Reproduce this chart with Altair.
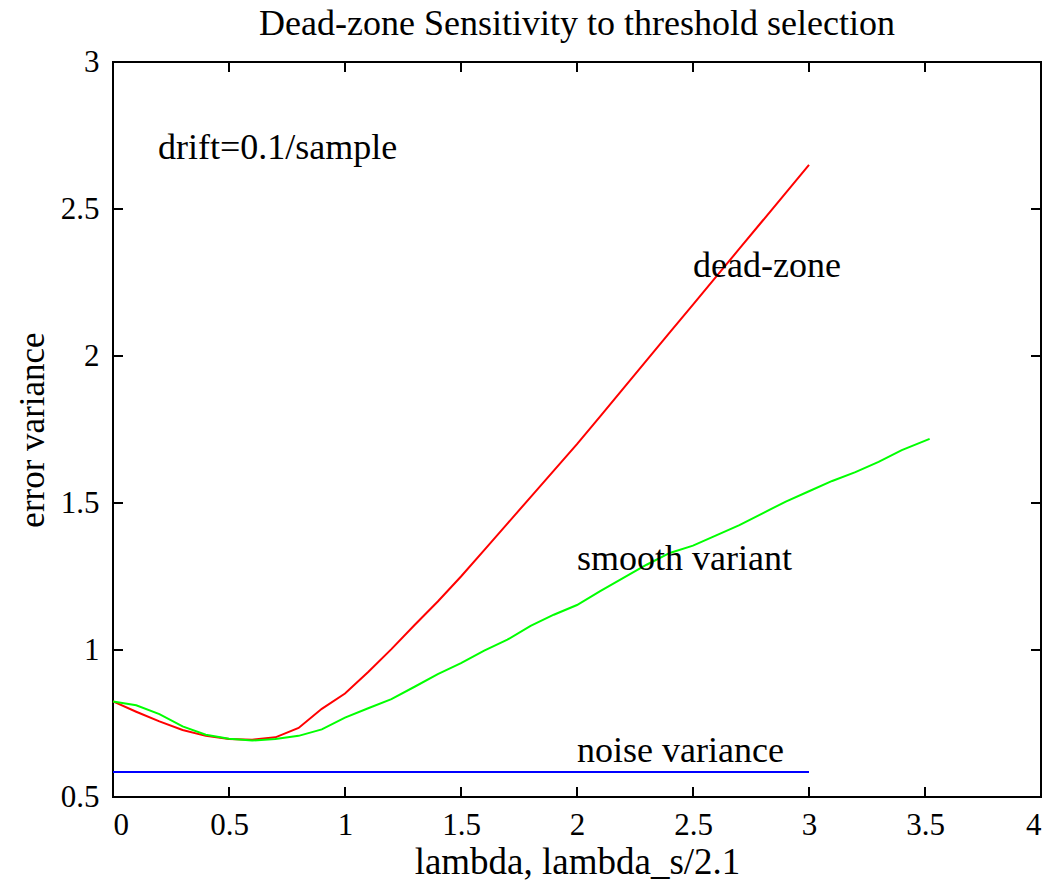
import altair as alt
import pandas as pd

# ---- data ----
dz_x = [0.0, 0.1, 0.2, 0.3, 0.4, 0.5, 0.6, 0.7, 0.8, 0.9, 1.0, 1.1, 1.2, 1.3, 1.4, 1.5,
        1.6, 1.7, 1.8, 1.9, 2.0, 2.1, 2.2, 2.3, 2.4, 2.5, 2.6, 2.7, 2.8, 2.9, 3.0]
dz_y = [0.825, 0.790, 0.757, 0.728, 0.708, 0.697, 0.695, 0.703, 0.735, 0.800, 0.852,
        0.925, 1.003, 1.085, 1.165, 1.250, 1.340, 1.430, 1.520, 1.610, 1.700, 1.795,
        1.890, 1.985, 2.080, 2.175, 2.270, 2.365, 2.460, 2.555, 2.650]

sm_x = [0.0, 0.1, 0.2, 0.3, 0.4, 0.5, 0.6, 0.7, 0.8, 0.9, 1.0, 1.1, 1.2, 1.3, 1.4, 1.5,
        1.6, 1.7, 1.8, 1.9, 2.0, 2.1, 2.2, 2.3, 2.4, 2.5, 2.6, 2.7, 2.8, 2.9, 3.0, 3.1,
        3.2, 3.3, 3.4, 3.52]
sm_y = [0.825, 0.812, 0.782, 0.740, 0.712, 0.698, 0.692, 0.697, 0.708, 0.730, 0.770,
        0.802, 0.833, 0.875, 0.918, 0.955, 0.998, 1.035, 1.082, 1.120, 1.153, 1.200,
        1.245, 1.290, 1.330, 1.355, 1.390, 1.425, 1.465, 1.505, 1.540, 1.575, 1.605,
        1.640, 1.680, 1.718]

noise_x = [0.0, 3.0]
noise_y = [0.585, 0.585]

series_names = ["dead-zone", "smooth variant", "noise variance"]
series_colors = ["#ff0000", "#00ff00", "#0000ff"]

ann_text = ["drift=0.1/sample", "dead-zone", "smooth variant", "noise variance"]
ann_x = [0.194, 2.50, 2.00, 2.00]
ann_y = [2.670, 2.269, 1.272, 0.620]

x_ticks = [0, 0.5, 1, 1.5, 2, 2.5, 3, 3.5, 4]
y_ticks = [0.5, 1, 1.5, 2, 2.5, 3]

title_text = "Dead-zone Sensitivity to threshold selection"
x_title = "lambda, lambda_s/2.1"
y_title = "error variance"

FONT = "Liberation Serif"
W, H = 928, 735

# ---- tables ----
rows = []
for name, xs, ys in [(series_names[0], dz_x, dz_y),
                     (series_names[1], sm_x, sm_y),
                     (series_names[2], noise_x, noise_y)]:
    for i, (a, b) in enumerate(zip(xs, ys)):
        rows.append({"series": name, "x": a, "y": b, "order": i})
lines_df = pd.DataFrame(rows)
ann_df = pd.DataFrame({"label": ann_text, "x": ann_x, "y": ann_y})
xt_df = pd.DataFrame({"t": x_ticks})
yt_df = pd.DataFrame({"t": y_ticks})

xscale = alt.Scale(domain=[0, 4], nice=False, zero=False)
yscale = alt.Scale(domain=[0.5, 3], nice=False, zero=False)

lines = alt.Chart(lines_df).mark_line(strokeWidth=2).encode(
    x=alt.X("x:Q", scale=xscale, title=x_title,
            axis=alt.Axis(values=x_ticks, format="~g", ticks=False, domain=False,
                          grid=False, labelFontSize=31, labelFont=FONT,
                          labelColor="black", labelPadding=37,
                          labelBaseline="alphabetic",
                          titleFont=FONT, titleFontSize=37, titleFontWeight="normal",
                          titleColor="black", titleY=76, titleBaseline="alphabetic")),
    y=alt.Y("y:Q", scale=yscale, title=y_title,
            axis=alt.Axis(values=y_ticks, format="~g", ticks=False, domain=False,
                          grid=False, labelFontSize=31, labelFont=FONT,
                          labelColor="black", labelPadding=14,
                          titleFont=FONT, titleFontSize=35, titleFontWeight="normal",
                          titleColor="black", titleX=-70, titleBaseline="alphabetic")),
    color=alt.Color("series:N", scale=alt.Scale(domain=series_names, range=series_colors),
                    legend=None),
    detail="series:N",
    order="order:Q",
)

ann = alt.Chart(ann_df).mark_text(align="left", baseline="alphabetic", font=FONT,
                                  fontSize=36, color="black").encode(
    x=alt.X("x:Q", scale=xscale), y=alt.Y("y:Q", scale=yscale), text="label:N")

tick_len = 10
xt_bottom = alt.Chart(xt_df).mark_rule(color="black", strokeWidth=2).encode(
    x=alt.X("t:Q", scale=xscale), y=alt.value(H), y2=alt.value(H - tick_len))
xt_top = alt.Chart(xt_df).mark_rule(color="black", strokeWidth=2).encode(
    x=alt.X("t:Q", scale=xscale), y=alt.value(0), y2=alt.value(tick_len))
yt_left = alt.Chart(yt_df).mark_rule(color="black", strokeWidth=2).encode(
    y=alt.Y("t:Q", scale=yscale), x=alt.value(0), x2=alt.value(tick_len))
yt_right = alt.Chart(yt_df).mark_rule(color="black", strokeWidth=2).encode(
    y=alt.Y("t:Q", scale=yscale), x=alt.value(W), x2=alt.value(W - tick_len))

chart = alt.layer(lines, ann, xt_bottom, xt_top, yt_left, yt_right).properties(
    width=W, height=H,
    title=alt.TitleParams(title_text, font=FONT, fontSize=36, fontWeight="normal",
                          color="black", anchor="middle", offset=3),
    autosize=alt.AutoSizeParams(type="none"),
    padding={"left": 105, "top": 54, "right": 8, "bottom": 90},
    background="white",
).configure_view(stroke="black", strokeWidth=2)

chart.save("out.html", embed_options={"renderer": "svg", "actions": False})
